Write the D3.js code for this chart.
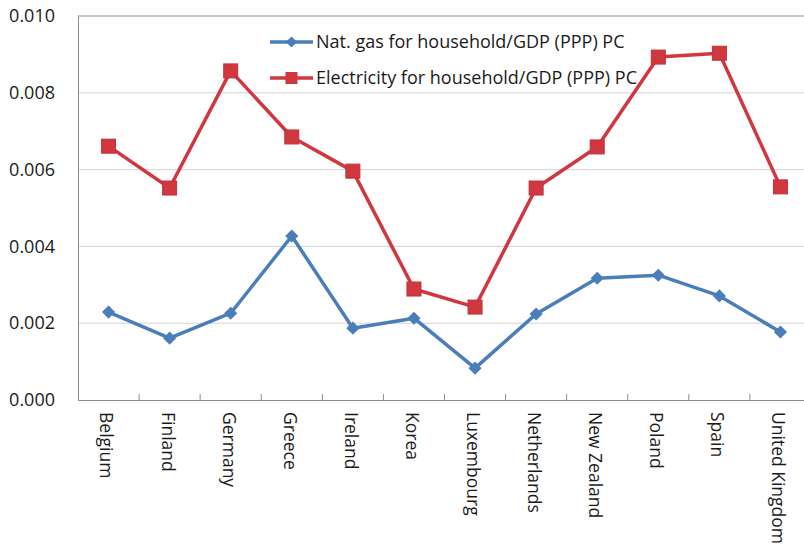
<!DOCTYPE html>
<html><head><meta charset="utf-8">
<script src="https://cdn.jsdelivr.net/npm/d3@7"></script>
<style>body{margin:0;background:#fff}svg{display:block}</style>
</head><body>
<svg id="c" width="804" height="546"></svg>
<script>
const categories = ["Belgium","Finland","Germany","Greece","Ireland","Korea","Luxembourg","Netherlands","New Zealand","Poland","Spain","United Kingdom"];
const gasValues = [0.00229,0.00161,0.00226,0.00427,0.00187,0.00213,0.00083,0.00224,0.00317,0.00325,0.00271,0.00177];
const elecValues = [0.00661,0.00552,0.00857,0.00685,0.00596,0.00289,0.00242,0.00552,0.00659,0.00893,0.00903,0.00555];
const yTicks = [0,0.002,0.004,0.006,0.008,0.010];
const seriesNames = ["Nat. gas for household/GDP (PPP) PC","Electricity for household/GDP (PPP) PC"];
const colors = ["#4a7ebb","#d0373f"];

(function(){
const svg = d3.select("#c");
const font = "Open Sans, sans-serif";
const mLeft = 78, mRight = 811, mTop = 16, mBottom = 400;
const x = d3.scaleBand().domain(categories).range([mLeft, mRight]);
const y = d3.scaleLinear().domain([0, 0.010]).range([mBottom, mTop]);

svg.append("g").selectAll("line").data(yTicks.filter(d => d > 0)).join("line")
  .attr("x1", mLeft).attr("x2", mRight)
  .attr("y1", d => y(d)).attr("y2", d => y(d))
  .attr("stroke", d => d === 0.010 ? "#8c8c8c" : "#d4d4d4").attr("stroke-width", 1);

const yAxis = d3.axisLeft(y).tickValues(yTicks).tickFormat(d3.format(".3f")).tickSize(0).tickPadding(23);
const yg = svg.append("g").attr("transform", `translate(${mLeft},0)`).call(yAxis);
yg.select(".domain").attr("stroke", "#8c8c8c");
yg.selectAll("text").attr("font-family", font).attr("font-size", 18).attr("fill", "#1a1a1a");

const xAxis = d3.axisBottom(x).tickSize(0).tickFormat("");
const xg = svg.append("g").attr("transform", `translate(0,${mBottom})`).call(xAxis);
xg.select(".domain").attr("stroke", "#8c8c8c");
xg.selectAll(".tick").remove();
svg.append("g").selectAll("line").data(categories.slice(1)).join("line")
  .attr("x1", d => x(d)).attr("x2", d => x(d))
  .attr("y1", mBottom).attr("y2", mBottom - 6)
  .attr("stroke", "#8c8c8c");
svg.append("g").selectAll("text").data(categories).join("text")
  .attr("transform", d => `translate(${x(d) + x.bandwidth()/2 - 2},${mBottom + 12}) rotate(90)`)
  .attr("dy", "0.35em")
  .attr("font-family", font).attr("font-size", 17.5).attr("fill", "#1a1a1a")
  .text(d => d);

const line = d3.line().x((d,i) => x(categories[i]) + x.bandwidth()/2).y(d => y(d));

[[elecValues,1],[gasValues,0]].forEach(([vals, idx]) => {
  svg.append("path").datum(vals).attr("d", line)
    .attr("fill", "none").attr("stroke", colors[idx]).attr("stroke-width", 3.5)
    .attr("stroke-linejoin", "round");
});
svg.append("g").selectAll("rect").data(elecValues).join("rect")
  .attr("x", (d,i) => x(categories[i]) + x.bandwidth()/2 - 7)
  .attr("y", d => y(d) - 7).attr("width", 14).attr("height", 14)
  .attr("fill", colors[1]).attr("stroke", "#c0323a").attr("stroke-width", 1);
const diamond = d3.symbol().type(d3.symbolDiamond2).size(110);
svg.append("g").selectAll("path").data(gasValues).join("path")
  .attr("transform", (d,i) => `translate(${x(categories[i]) + x.bandwidth()/2},${y(d)})`)
  .attr("d", diamond).attr("fill", colors[0]);

const legY = [42, 78];
seriesNames.forEach((name, k) => {
  const g = svg.append("g");
  g.append("line").attr("x1", 270).attr("x2", 313).attr("y1", legY[k]).attr("y2", legY[k])
    .attr("stroke", colors[k]).attr("stroke-width", 3.5);
  if (k === 0) {
    g.append("path").attr("transform", `translate(291.5,${legY[k]})`).attr("d", d3.symbol().type(d3.symbolDiamond2).size(80)).attr("fill", colors[0]);
  } else {
    g.append("rect").attr("x", 285.5).attr("y", legY[k]-6).attr("width", 12).attr("height", 12).attr("fill", colors[1]);
  }
  g.append("text").attr("x", 316).attr("y", legY[k]).attr("dy", "0.35em")
    .attr("font-family", font).attr("font-size", 18).attr("fill", "#1a1a1a").text(name);
});
})();
</script>
</body></html>
